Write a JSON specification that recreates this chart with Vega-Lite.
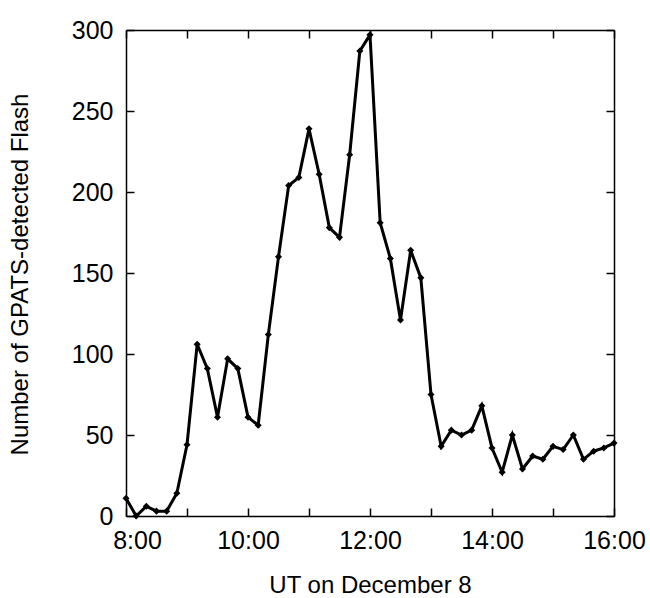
{
  "$schema": "https://vega.github.io/schema/vega-lite/v6.json",
  "width": 488,
  "height": 486,
  "autosize": "none",
  "padding": {"left": 126, "top": 30, "right": 36, "bottom": 82},
  "background": "white",
  "config": {
    "view": {"stroke": null},
    "font": "Liberation Sans",
    "axis": {
      "domainColor": "black",
      "domainWidth": 1.5,
      "tickColor": "black",
      "tickWidth": 1.5,
      "tickSize": -8,
      "grid": false,
      "labelColor": "black",
      "labelFontSize": 25,
      "labelFont": "Liberation Sans",
      "titleColor": "black",
      "titleFont": "Liberation Sans",
      "titleFontSize": 24,
      "titleFontWeight": "normal"
    }
  },
  "data": {
    "values": [
      {"time": "2000-12-08T08:00:00", "flash": 11},
      {"time": "2000-12-08T08:10:00", "flash": 0},
      {"time": "2000-12-08T08:20:00", "flash": 6},
      {"time": "2000-12-08T08:30:00", "flash": 3},
      {"time": "2000-12-08T08:40:00", "flash": 3},
      {"time": "2000-12-08T08:50:00", "flash": 14},
      {"time": "2000-12-08T09:00:00", "flash": 44},
      {"time": "2000-12-08T09:10:00", "flash": 106},
      {"time": "2000-12-08T09:20:00", "flash": 91},
      {"time": "2000-12-08T09:30:00", "flash": 61},
      {"time": "2000-12-08T09:40:00", "flash": 97},
      {"time": "2000-12-08T09:50:00", "flash": 91},
      {"time": "2000-12-08T10:00:00", "flash": 61},
      {"time": "2000-12-08T10:10:00", "flash": 56},
      {"time": "2000-12-08T10:20:00", "flash": 112},
      {"time": "2000-12-08T10:30:00", "flash": 160},
      {"time": "2000-12-08T10:40:00", "flash": 204},
      {"time": "2000-12-08T10:50:00", "flash": 209},
      {"time": "2000-12-08T11:00:00", "flash": 239},
      {"time": "2000-12-08T11:10:00", "flash": 211},
      {"time": "2000-12-08T11:20:00", "flash": 178},
      {"time": "2000-12-08T11:30:00", "flash": 172},
      {"time": "2000-12-08T11:40:00", "flash": 223},
      {"time": "2000-12-08T11:50:00", "flash": 287},
      {"time": "2000-12-08T12:00:00", "flash": 297},
      {"time": "2000-12-08T12:10:00", "flash": 181},
      {"time": "2000-12-08T12:20:00", "flash": 159},
      {"time": "2000-12-08T12:30:00", "flash": 121},
      {"time": "2000-12-08T12:40:00", "flash": 164},
      {"time": "2000-12-08T12:50:00", "flash": 147},
      {"time": "2000-12-08T13:00:00", "flash": 75},
      {"time": "2000-12-08T13:10:00", "flash": 43},
      {"time": "2000-12-08T13:20:00", "flash": 53},
      {"time": "2000-12-08T13:30:00", "flash": 50},
      {"time": "2000-12-08T13:40:00", "flash": 53},
      {"time": "2000-12-08T13:50:00", "flash": 68},
      {"time": "2000-12-08T14:00:00", "flash": 42},
      {"time": "2000-12-08T14:10:00", "flash": 27},
      {"time": "2000-12-08T14:20:00", "flash": 50},
      {"time": "2000-12-08T14:30:00", "flash": 29},
      {"time": "2000-12-08T14:40:00", "flash": 37},
      {"time": "2000-12-08T14:50:00", "flash": 35},
      {"time": "2000-12-08T15:00:00", "flash": 43},
      {"time": "2000-12-08T15:10:00", "flash": 41},
      {"time": "2000-12-08T15:20:00", "flash": 50},
      {"time": "2000-12-08T15:30:00", "flash": 35},
      {"time": "2000-12-08T15:40:00", "flash": 40},
      {"time": "2000-12-08T15:50:00", "flash": 42},
      {"time": "2000-12-08T16:00:00", "flash": 45}
    ]
  },
  "layer": [
    {
      "mark": {"type": "line", "color": "black", "strokeWidth": 3, "clip": false},
      "encoding": {
        "x": {
          "field": "time",
          "type": "temporal",
          "scale": {
            "domain": [
              {"year": 2000, "month": 12, "date": 8, "hours": 8},
              {"year": 2000, "month": 12, "date": 8, "hours": 16}
            ]
          },
          "axis": {
            "orient": "bottom",
            "values": [
              {"year": 2000, "month": 12, "date": 8, "hours": 8},
              {"year": 2000, "month": 12, "date": 8, "hours": 9},
              {"year": 2000, "month": 12, "date": 8, "hours": 10},
              {"year": 2000, "month": 12, "date": 8, "hours": 11},
              {"year": 2000, "month": 12, "date": 8, "hours": 12},
              {"year": 2000, "month": 12, "date": 8, "hours": 13},
              {"year": 2000, "month": 12, "date": 8, "hours": 14},
              {"year": 2000, "month": 12, "date": 8, "hours": 15},
              {"year": 2000, "month": 12, "date": 8, "hours": 16}
            ],
            "labelExpr": "hours(datum.value) % 2 == 0 ? timeFormat(datum.value, '%-H:%M') : ''",
            "labelBaseline": "alphabetic",
            "labelPadding": 40,
            "labelOffset": {"condition": {"test": "hours(datum.value) == 8", "value": 11}, "value": 0},
            "labelFlush": false,
            "labelOverlap": false,
            "title": "UT on December 8",
            "titleY": 76,
            "titleBaseline": "alphabetic"
          }
        },
        "y": {
          "field": "flash",
          "type": "quantitative",
          "scale": {"domain": [0, 300], "nice": false},
          "axis": {
            "orient": "left",
            "values": [0, 50, 100, 150, 200, 250, 300],
            "labelPadding": 21,
            "labelFlush": false,
            "labelOverlap": false,
            "title": "Number of GPATS-detected Flash",
            "titleX": -106,
            "titleY": 244,
            "titleAngle": -90,
            "titleBaseline": "middle",
            "titleAlign": "center"
          }
        }
      }
    },
    {
      "mark": {"type": "point", "shape": "diamond", "filled": true, "color": "black", "size": 50, "opacity": 1, "clip": false},
      "encoding": {
        "x": {
          "field": "time",
          "type": "temporal",
          "axis": {
            "orient": "top",
            "values": [
              {"year": 2000, "month": 12, "date": 8, "hours": 8},
              {"year": 2000, "month": 12, "date": 8, "hours": 9},
              {"year": 2000, "month": 12, "date": 8, "hours": 10},
              {"year": 2000, "month": 12, "date": 8, "hours": 11},
              {"year": 2000, "month": 12, "date": 8, "hours": 12},
              {"year": 2000, "month": 12, "date": 8, "hours": 13},
              {"year": 2000, "month": 12, "date": 8, "hours": 14},
              {"year": 2000, "month": 12, "date": 8, "hours": 15},
              {"year": 2000, "month": 12, "date": 8, "hours": 16}
            ],
            "labels": false,
            "title": null
          }
        },
        "y": {
          "field": "flash",
          "type": "quantitative",
          "axis": {
            "orient": "right",
            "values": [0, 50, 100, 150, 200, 250, 300],
            "labels": false,
            "title": null
          }
        }
      }
    }
  ],
  "resolve": {"axis": {"x": "independent", "y": "independent"}}
}
